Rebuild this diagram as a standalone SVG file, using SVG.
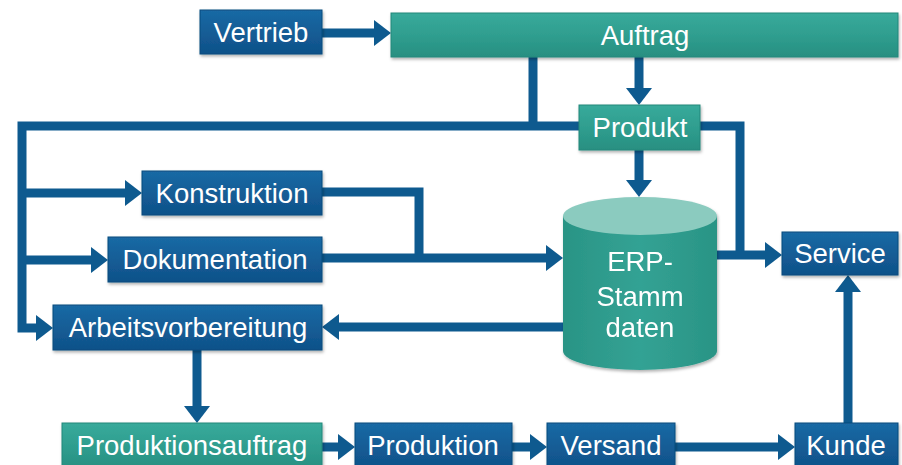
<svg xmlns="http://www.w3.org/2000/svg" width="902" height="465" viewBox="0 0 902 465">
<defs>
<linearGradient id="gBlue" x1="0" y1="0" x2="0" y2="1">
<stop offset="0" stop-color="#1a6aa5"/>
<stop offset="0.5" stop-color="#145d96"/>
<stop offset="1" stop-color="#0f5189"/>
</linearGradient>
<linearGradient id="gTeal" x1="0" y1="0" x2="0" y2="1">
<stop offset="0" stop-color="#38aa9b"/>
<stop offset="0.5" stop-color="#2f9e8f"/>
<stop offset="1" stop-color="#288f81"/>
</linearGradient>
<linearGradient id="gCyl" x1="0" y1="0" x2="1" y2="0">
<stop offset="0" stop-color="#2a9485"/>
<stop offset="0.5" stop-color="#33a294"/>
<stop offset="1" stop-color="#2a9485"/>
</linearGradient>
<filter id="sh" x="-10%" y="-20%" width="120%" height="150%">
<feDropShadow dx="1" dy="2" stdDeviation="1.5" flood-color="#000" flood-opacity="0.3"/>
</filter>
<marker id="ah" markerUnits="userSpaceOnUse" markerWidth="18" markerHeight="28" viewBox="0 0 18 28" refX="1" refY="14" orient="auto">
<path d="M0,1 L17,14 L0,27 z" fill="#0e5a8f"/>
</marker>
</defs>
<style>
.b{fill:url(#gBlue);stroke:#0b4a7d;stroke-width:1;filter:url(#sh)}
.t{fill:url(#gTeal);stroke:#23877a;stroke-width:1;filter:url(#sh)}
.l{fill:#ffffff;font-family:"Liberation Sans",Arial,sans-serif;font-size:27.5px;text-anchor:middle}
.c{fill:none;stroke:#0e5a8f;stroke-width:9;stroke-linejoin:miter}
.a{marker-end:url(#ah)}
</style>
<g id="connectors">
<path class="c a" d="M322,33 H375"/>
<path class="c a" d="M639,57 V89"/>
<path class="c" d="M533,57 V126"/>
<path class="c a" d="M579,126 H22 V328 H37"/>
<path class="c a" d="M22,193 H126"/>
<path class="c a" d="M22,260 H92"/>
<path class="c a" d="M639,150 V181"/>
<path class="c" d="M700,126 H740 V255"/>
<path class="c a" d="M717,255 H766"/>
<path class="c" d="M322,192 H419 V258"/>
<path class="c a" d="M322,258 H547"/>
<path class="c a" d="M563,327 H338"/>
<path class="c a" d="M197,350 V407"/>
<path class="c a" d="M322,447 H339"/>
<path class="c a" d="M512,447 H531"/>
<path class="c a" d="M675,447 H779"/>
<path class="c a" d="M848,423 V291"/>
</g>
<g id="vertrieb"><rect class="b" x="200" y="10" width="122" height="44"/><text class="l" x="261" y="42">Vertrieb</text></g>
<g id="auftrag"><rect class="t" x="391" y="13" width="507" height="44"/><text class="l" x="645" y="45">Auftrag</text></g>
<g id="produkt"><rect class="t" x="579" y="105" width="121" height="45"/><text class="l" x="640" y="137">Produkt</text></g>
<g id="konstruktion"><rect class="b" x="142" y="171" width="180" height="44"/><text class="l" x="232" y="203">Konstruktion</text></g>
<g id="dokumentation"><rect class="b" x="108" y="237" width="214" height="45"/><text class="l" x="215" y="269">Dokumentation</text></g>
<g id="arbeitsvorbereitung"><rect class="b" x="53" y="305" width="269" height="45"/><text class="l" x="188" y="337">Arbeitsvorbereitung</text></g>
<g id="erp" filter="url(#sh)">
<path d="M563,216 V351 A77,19 0 0 0 717,351 V216 z" fill="url(#gCyl)"/>
<ellipse cx="640" cy="216" rx="77" ry="19" fill="#8bcbbf"/>
<text class="l" x="640" y="271">ERP-</text>
<text class="l" x="640" y="306">Stamm</text>
<text class="l" x="640" y="337">daten</text>
</g>
<g id="service"><rect class="b" x="782" y="232" width="116" height="43"/><text class="l" x="840" y="263">Service</text></g>
<g id="produktionsauftrag"><rect class="t" x="62" y="423" width="260" height="46"/><text class="l" x="192" y="455">Produktionsauftrag</text></g>
<g id="produktion"><rect class="b" x="355" y="423" width="157" height="46"/><text class="l" x="433" y="455">Produktion</text></g>
<g id="versand"><rect class="b" x="547" y="423" width="128" height="46"/><text class="l" x="611" y="455">Versand</text></g>
<g id="kunde"><rect class="b" x="795" y="423" width="103" height="46"/><text class="l" x="846" y="455">Kunde</text></g>
</svg>
